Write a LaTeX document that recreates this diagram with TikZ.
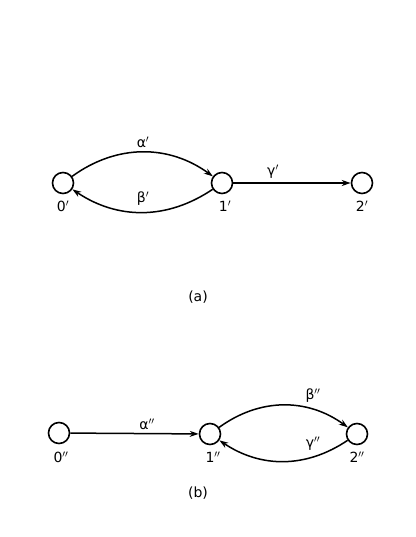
\documentclass[tikz,border=0pt]{standalone}
\usepackage{fontspec}
\setmainfont{DejaVu Sans}
\usetikzlibrary{arrows.meta}
\tikzset{
  state/.style={circle,draw,line width=1.6pt,minimum size=21pt,inner sep=0pt},
  edge/.style={line width=1.5pt,-{Stealth[length=9pt,width=6pt]}},
  lbl/.style={font=\fontsize{14}{16}\selectfont,inner sep=0pt}
}
\begin{document}
\begin{tikzpicture}[x=1pt,y=-1pt]
\useasboundingbox (0,0) rectangle (415,537);
% (a)
\node[state] (a0) at (63,183) {};
\node[state] (a1) at (222,183) {};
\node[state] (a2) at (362,183) {};
\node[lbl] (la0) at (63,206) {0$'$};
\node[lbl] (la1) at (225,206) {1$'$};
\node[lbl] (la2) at (362,206) {2$'$};
\draw[edge] (a0) to[bend left=36] (a1);
\draw[edge] (a1) to[bend left=34] (a0);
\draw[edge] (a1) -- (a2);
\node[lbl] (alpha1) at (143,142) {α$'$};
\node[lbl] (beta1) at (143,199) {β$'$};
\node[lbl] (gamma1) at (273,172) {γ$'$};
\node[lbl] (capa) at (198,297) {(a)};
% (b)
\node[state] (b0) at (59,433) {};
\node[state] (b1) at (210,434) {};
\node[state] (b2) at (357,434) {};
\node[lbl] (lb0) at (61,457) {0$''$};
\node[lbl] (lb1) at (213,457) {1$''$};
\node[lbl] (lb2) at (357,457) {2$''$};
\draw[edge] (b0) -- (b1);
\draw[edge] (b1) to[bend left=36] (b2);
\draw[edge] (b2) to[bend left=34] (b1);
\node[lbl] (alpha2) at (147,424) {α$''$};
\node[lbl] (beta2) at (313,396) {β$''$};
\node[lbl] (gamma2) at (313,444) {γ$''$};
\node[lbl] (capb) at (198,493) {(b)};
\end{tikzpicture}
\end{document}
